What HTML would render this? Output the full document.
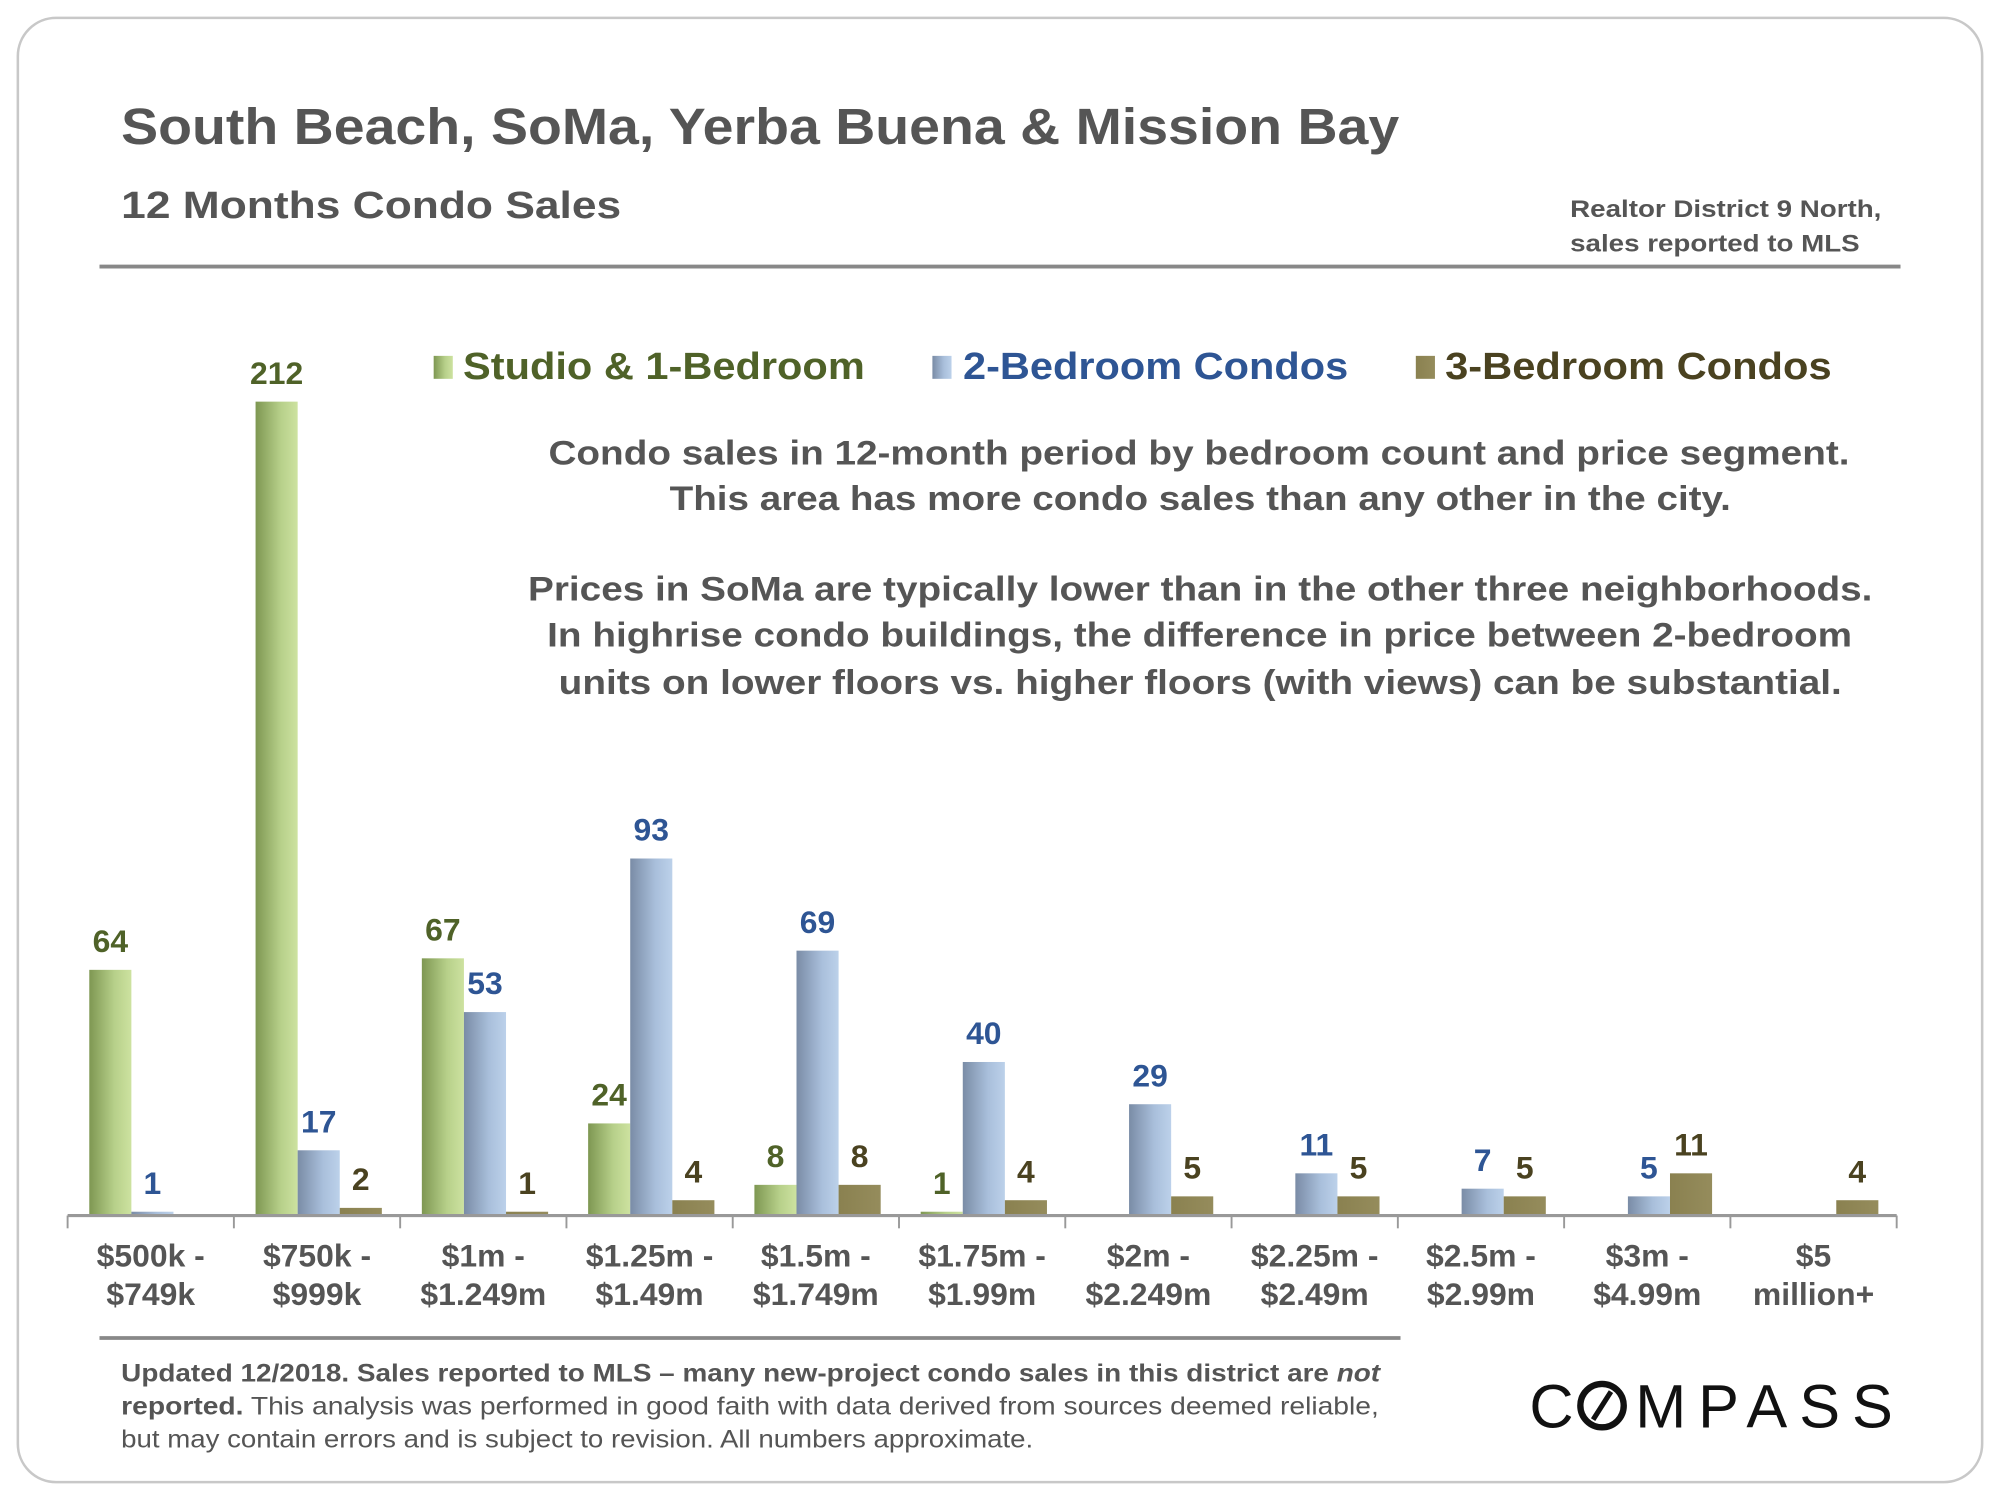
<!DOCTYPE html>
<html><head><meta charset="utf-8"><style>
html,body{margin:0;padding:0;background:#fff;}
svg{display:block;font-family:"Liberation Sans",Arial,sans-serif;}
</style></head><body>
<svg id="chart" width="2000" height="1500" viewBox="0 0 1568 1176">
<defs>
<linearGradient id="gGreen" x1="0" x2="1" y1="0" y2="0"><stop offset="0" stop-color="#7e9752"/><stop offset="0.6" stop-color="#b7d08a"/><stop offset="1" stop-color="#cde2a0"/></linearGradient>
<linearGradient id="gBlue" x1="0" x2="1" y1="0" y2="0"><stop offset="0" stop-color="#7a8ca6"/><stop offset="0.6" stop-color="#a9bfdb"/><stop offset="1" stop-color="#bcd1ea"/></linearGradient>
<linearGradient id="gOlive" x1="0" x2="1" y1="0" y2="0"><stop offset="0" stop-color="#8a8150"/><stop offset="1" stop-color="#958c5c"/></linearGradient>
</defs>
<rect x="14" y="14" width="1540" height="1148" rx="30" fill="#fff" stroke="#c8c8c8" stroke-width="2"/>
<text x="95" y="113" font-size="40" font-weight="bold" fill="#555" textLength="1002" lengthAdjust="spacingAndGlyphs">South Beach, SoMa, Yerba Buena &amp; Mission Bay</text>
<text x="95" y="171" font-size="30" font-weight="bold" fill="#555" textLength="392" lengthAdjust="spacingAndGlyphs">12 Months Condo Sales</text>
<g font-size="19" font-weight="bold" fill="#555">
<text x="1231" y="170" textLength="244" lengthAdjust="spacingAndGlyphs">Realtor District 9 North,</text>
<text x="1231" y="197" textLength="227" lengthAdjust="spacingAndGlyphs">sales reported to MLS</text>
</g>
<line x1="78" y1="209" x2="1490" y2="209" stroke="#888" stroke-width="3"/>
<g>
<rect x="340" y="279" width="15" height="18" fill="url(#gGreen)"/>
<text x="363" y="297" font-size="30" font-weight="bold" fill="#4f6228" textLength="315" lengthAdjust="spacingAndGlyphs">Studio &amp; 1-Bedroom</text>
<rect x="731" y="279" width="15" height="18" fill="url(#gBlue)"/>
<text x="755" y="297" font-size="30" font-weight="bold" fill="#2e5594" textLength="302" lengthAdjust="spacingAndGlyphs">2-Bedroom Condos</text>
<rect x="1110" y="279" width="15" height="18" fill="url(#gOlive)"/>
<text x="1133" y="297" font-size="30" font-weight="bold" fill="#4a4220" textLength="303" lengthAdjust="spacingAndGlyphs">3-Bedroom Condos</text>
</g>
<g font-size="27" font-weight="bold" fill="#555">
<text x="430" y="364" textLength="1020" lengthAdjust="spacingAndGlyphs">Condo sales in 12-month period by bedroom count and price segment.</text>
<text x="525" y="400" textLength="832" lengthAdjust="spacingAndGlyphs">This area has more condo sales than any other in the city.</text>
<text x="414" y="471" textLength="1054" lengthAdjust="spacingAndGlyphs">Prices in SoMa are typically lower than in the other three neighborhoods.</text>
<text x="429" y="507" textLength="1023" lengthAdjust="spacingAndGlyphs">In highrise condo buildings, the difference in price between 2-bedroom</text>
<text x="438" y="544" textLength="1006" lengthAdjust="spacingAndGlyphs">units on lower floors vs. higher floors (with views) can be substantial.</text>
</g>
<g id="plot"></g>
<line x1="78" y1="1049" x2="1098" y2="1049" stroke="#888" stroke-width="3"/>
<g font-size="19.5" fill="#555">
<text x="95" y="1083" textLength="987" lengthAdjust="spacingAndGlyphs"><tspan font-weight="bold">Updated 12/2018. Sales reported to MLS – many new-project condo sales in this district are </tspan><tspan font-weight="bold" font-style="italic">not</tspan></text>
<text x="95" y="1109" textLength="986" lengthAdjust="spacingAndGlyphs"><tspan font-weight="bold">reported.</tspan> This analysis was performed in good faith with data derived from sources deemed reliable,</text>
<text x="95" y="1135" textLength="715" lengthAdjust="spacingAndGlyphs">but may contain errors and is subject to revision. All numbers approximate.</text>
</g>
<g>
<text x="1199" y="1119" font-size="48" fill="#111">C</text>
<circle cx="1256" cy="1102" r="17" fill="none" stroke="#111" stroke-width="5"/>
<line x1="1249" y1="1113" x2="1263" y2="1091" stroke="#111" stroke-width="4"/>
<text x="1282" y="1119" font-size="48" fill="#111" textLength="202" lengthAdjust="spacing">MPASS</text>
</g>
</svg>
<script>
const categories1 = ["$500k -","$750k -","$1m -","$1.25m -","$1.5m -","$1.75m -","$2m -","$2.25m -","$2.5m -","$3m -","$5"];
const categories2 = ["$749k","$999k","$1.249m","$1.49m","$1.749m","$1.99m","$2.249m","$2.49m","$2.99m","$4.99m","million+"];
const studio = [64,212,67,24,8,1,0,0,0,0,0];
const twoBed = [1,17,53,93,69,40,29,11,7,5,0];
const threeBed = [0,2,1,4,8,4,5,5,5,11,4];

const NS="http://www.w3.org/2000/svg";
const plot=document.getElementById('plot');
const x0=53, x1=1487, baseY=953, catW=(x1-x0)/categories1.length, barW=33;
const yScale=v=>v*3.01;
function mk(tag,attrs){const e=document.createElementNS(NS,tag);for(const k in attrs)e.setAttribute(k,attrs[k]);plot.appendChild(e);return e;}
const series=[{d:studio,fill:"url(#gGreen)",col:"#4f6228",n:"studio"},{d:twoBed,fill:"url(#gBlue)",col:"#2e5594",n:"2bed"},{d:threeBed,fill:"url(#gOlive)",col:"#4a4220",n:"3bed"}];
categories1.forEach((c,i)=>{
  const gx=x0+i*catW+17;
  series.forEach((s,j)=>{
    const v=s.d[i]; if(!v) return;
    const h=yScale(v), bx=gx+j*barW;
    const r=mk('rect',{x:bx,y:baseY-h,width:barW,height:h,fill:s.fill});
    
    
    const t=mk('text',{x:bx+barW/2,y:baseY-h-14,'font-size':25,'font-weight':'bold','text-anchor':'middle',fill:s.col});
    t.textContent=v;
    
    
  });
  const l=mk('text',{x:x0+(i+0.5)*catW,y:993,'font-size':25,'font-weight':'bold','text-anchor':'middle',fill:'#555'});
  
  
  const a=document.createElementNS(NS,'tspan');a.setAttribute('x',x0+(i+0.5)*catW);a.textContent=c;l.appendChild(a);
  const b=document.createElementNS(NS,'tspan');b.setAttribute('x',x0+(i+0.5)*catW);b.setAttribute('y',1023);b.textContent=categories2[i];l.appendChild(b);
});
for(let i=0;i<=categories1.length;i++){
  const t=mk('line',{x1:x0+i*catW,x2:x0+i*catW,y1:baseY,y2:963,stroke:'#999','stroke-width':1.5});
  
  
}
const ax=mk('line',{x1:x0,x2:x1,y1:baseY,y2:baseY,stroke:'#999','stroke-width':2.5});


</script>
</body></html>
